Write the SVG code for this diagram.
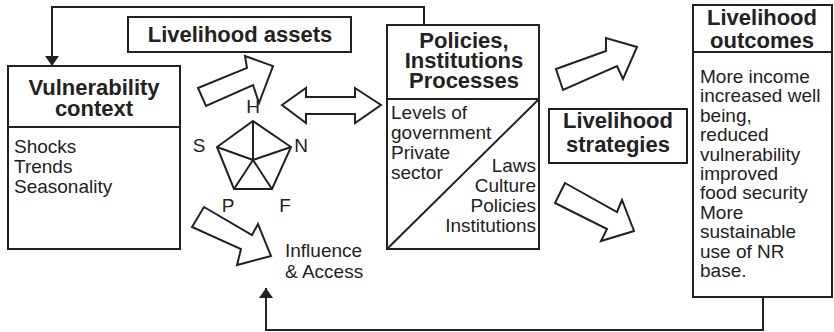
<svg xmlns="http://www.w3.org/2000/svg" width="834" height="332" viewBox="0 0 834 332">
<defs>
<style>
.box{fill:#fff;stroke:#222;stroke-width:2}
.ln{fill:none;stroke:#222;stroke-width:2}
.blk{fill:#fff;stroke:#222;stroke-width:2;stroke-linejoin:miter}
.t{font-family:"Liberation Sans",Arial,sans-serif;font-size:19px;fill:#222}
.b{font-family:"Liberation Sans",Arial,sans-serif;font-size:22px;font-weight:bold;fill:#222}
.c{text-anchor:middle}
.r{text-anchor:end}
</style>
<marker id="ah" viewBox="0 0 10 14" refX="10" refY="7" markerWidth="10" markerHeight="14" markerUnits="userSpaceOnUse" orient="auto">
<path d="M0,0 L10,7 L0,14 Z" fill="#222"/>
</marker>
</defs>
<rect width="834" height="332" fill="#fff"/>

<g id="connectors">
<polyline class="ln" points="424,25 424,7 52,7 52,66" marker-end="url(#ah)"/>
<polyline class="ln" points="763,297 763,330 266,330 266,288" marker-end="url(#ah)"/>
<polygon class="blk" points="198,88 247,68 245,56 273,66 259,103 253,85 206,106"/>
<polygon class="blk" points="204,207 252,235 258,224 271,256 237,265 241,249 192,227"/>
<polygon class="blk" points="282,105 306,88 306,97 355,97 355,88 381,105 355,123 355,114 306,114 306,123"/>
<polygon class="blk" points="556,69 606,51 606,38 637,47 623,79 617,66 563,90"/>
<polygon class="blk" points="565,183 617,212 622,200 634,231 601,241 607,229 555,203"/>
</g>

<g id="vulnerability">
<rect class="box" x="8" y="66" width="172" height="183"/>
<line class="ln" x1="8" y1="127" x2="180" y2="127"/>
<text class="b c" x="94" y="95">Vulnerability</text>
<text class="b c" x="94" y="116">context</text>
<text class="t" x="14" y="153">Shocks</text>
<text class="t" x="14" y="173">Trends</text>
<text class="t" x="14" y="193">Seasonality</text>
</g>

<g id="assets">
<rect class="box" x="128" y="17" width="223" height="35"/>
<text class="b c" x="240" y="42">Livelihood assets</text>
</g>

<g id="pentagon">
<polygon class="ln" points="253,121 291,147 272,189 234,189 217,147"/>
<path class="ln" d="M253,160 L253,121 M253,160 L291,147 M253,160 L272,189 M253,160 L234,189 M253,160 L217,147"/>
<text class="t c" x="253" y="113">H</text>
<text class="t c" x="199" y="152">S</text>
<text class="t c" x="301" y="152">N</text>
<text class="t c" x="228" y="212">P</text>
<text class="t c" x="285" y="212">F</text>
</g>

<g id="influence">
<text class="t" x="285" y="257">Influence</text>
<text class="t" x="285" y="278">&amp; Access</text>
</g>

<g id="policies">
<rect class="box" x="387" y="25" width="152" height="224"/>
<line class="ln" x1="387" y1="99" x2="539" y2="99"/>
<line class="ln" x1="539" y1="99" x2="387" y2="249"/>
<text class="b c" x="464" y="48">Policies,</text>
<text class="b c" x="464" y="68">Institutions</text>
<text class="b c" x="464" y="88">Processes</text>
<text class="t" x="391" y="119">Levels of</text>
<text class="t" x="391" y="139">government</text>
<text class="t" x="391" y="159">Private</text>
<text class="t" x="391" y="179">sector</text>
<text class="t r" x="536" y="172">Laws</text>
<text class="t r" x="536" y="192">Culture</text>
<text class="t r" x="536" y="212">Policies</text>
<text class="t r" x="536" y="232">Institutions</text>
</g>

<g id="strategies">
<rect class="box" x="549" y="109" width="138" height="54"/>
<text class="b c" x="618" y="128">Livelihood</text>
<text class="b c" x="618" y="152">strategies</text>
</g>

<g id="outcomes">
<rect class="box" x="693" y="5" width="139" height="292"/>
<line class="ln" x1="693" y1="52" x2="832" y2="52"/>
<text class="b c" x="762" y="25">Livelihood</text>
<text class="b c" x="762" y="48">outcomes</text>
<text class="t" x="700" y="83">More income</text>
<text class="t" x="700" y="102.4">increased well</text>
<text class="t" x="700" y="121.8">being,</text>
<text class="t" x="700" y="141.2">reduced</text>
<text class="t" x="700" y="160.6">vulnerability</text>
<text class="t" x="700" y="180">improved</text>
<text class="t" x="700" y="199.4">food security</text>
<text class="t" x="700" y="218.8">More</text>
<text class="t" x="700" y="238.2">sustainable</text>
<text class="t" x="700" y="257.6">use of NR</text>
<text class="t" x="700" y="277">base.</text>
</g>
</svg>
